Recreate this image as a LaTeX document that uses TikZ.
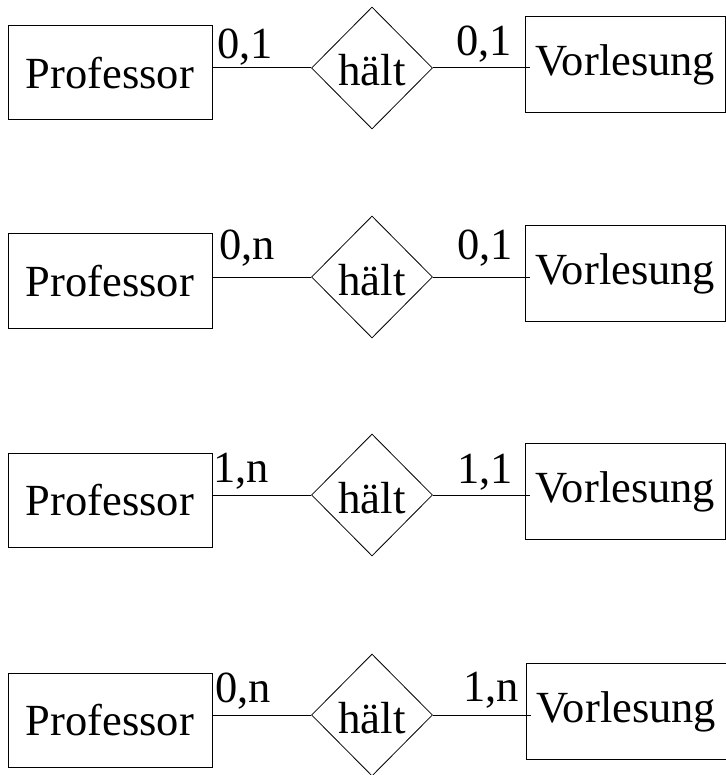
\documentclass[tikz,border=0pt]{standalone}
\usepackage{fontspec}
\setmainfont{Liberation Serif}
\usetikzlibrary{shapes.geometric}
\begin{document}
\begin{tikzpicture}[x=1pt,y=-1pt,
  every node/.style={font=\fontsize{44.5}{50}\selectfont},
  ent/.style={draw, line width=1pt, inner sep=0pt, minimum width=204pt, minimum height=94pt},
  entr/.style={draw, line width=1pt, anchor=west, inner xsep=10pt, inner ysep=0pt, minimum height=96pt},
  rel/.style={draw, diamond, line width=0.8pt, inner sep=0pt, minimum width=121pt, minimum height=122pt,
    text height=36pt, text depth=0pt, font=\fontsize{45}{50}\selectfont},
  card/.style={anchor=base west, inner sep=0pt},
  conn/.style={line width=1pt}]
\useasboundingbox (0,0) rectangle (725,775);

% row 1
\node[ent]  (p1) at (110,73) {Professor};
\node[rel]  (r1) at (372,68) {hält};
\node[entr] (v1) at (525,65) {Vorlesung};
\draw[conn] (p1.east |- r1.west) -- (r1.west);
\draw[conn, shorten >=-5pt] (r1.east) -- (v1.west |- r1.east);
\node[card] (c1a) at (217,59) {0,1};
\node[card] (c1b) at (456,56) {0,1};

% row 2
\node[ent]  (p2) at (110,281) {Professor};
\node[rel]  (r2) at (372,277) {hält};
\node[entr] (v2) at (525,273.5) {Vorlesung};
\draw[conn] (p2.east |- r2.west) -- (r2.west);
\draw[conn, shorten >=-5pt] (r2.east) -- (v2.west |- r2.east);
\node[card] (c2a) at (219,260) {0,n};
\node[card] (c2b) at (457,259) {0,1};

% row 3
\node[ent]  (p3) at (110,500) {Professor};
\node[rel]  (r3) at (372,495) {hält};
\node[entr] (v3) at (525,491.5) {Vorlesung};
\draw[conn] (p3.east |- r3.west) -- (r3.west);
\draw[conn, shorten >=-5pt] (r3.east) -- (v3.west |- r3.east);
\node[card] (c3a) at (213,482) {1,n};
\node[card] (c3b) at (457,483) {1,1};

% row 4
\node[ent]  (p4) at (110,720) {Professor};
\node[rel]  (r4) at (372,715) {hält};
\node[entr] (v4) at (526,711.5) {Vorlesung};
\draw[conn] (p4.east |- r4.west) -- (r4.west);
\draw[conn, shorten >=-5pt] (r4.east) -- (v4.west |- r4.east);
\node[card] (c4a) at (215,702) {0,n};
\node[card] (c4b) at (463,701) {1,n};
\end{tikzpicture}
\end{document}
